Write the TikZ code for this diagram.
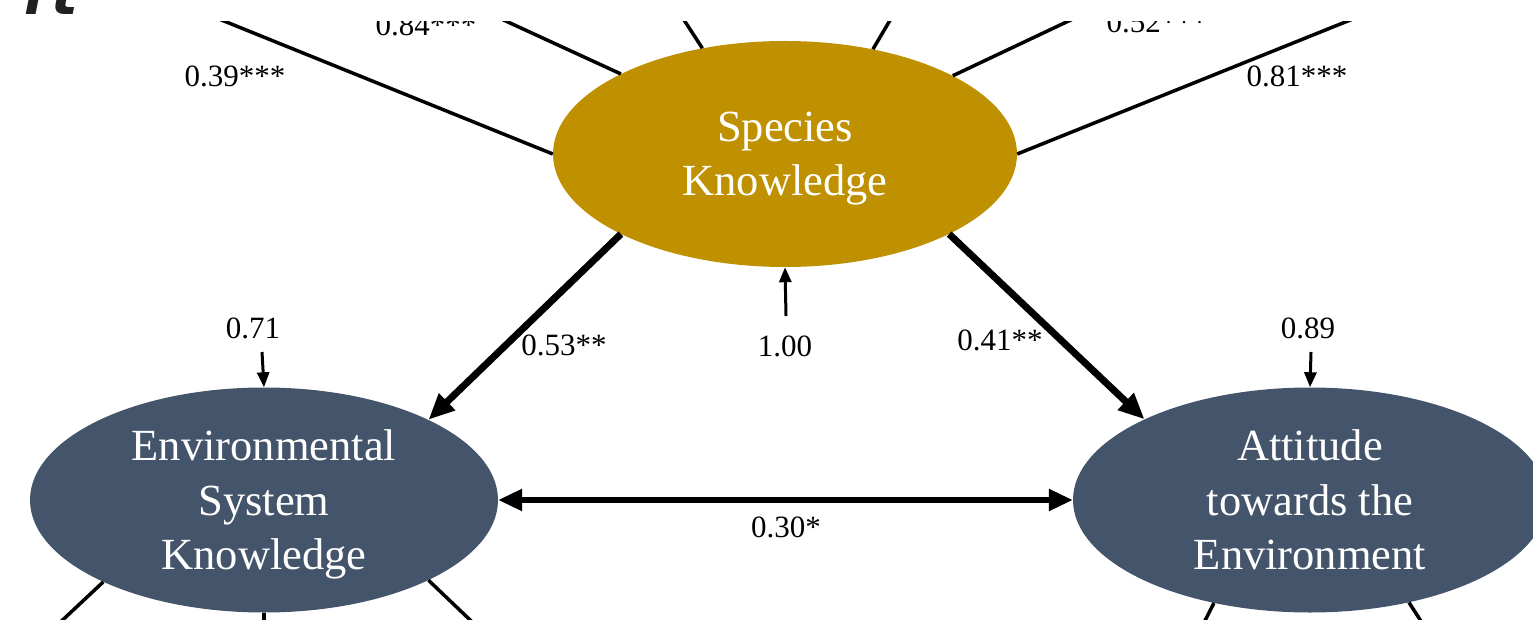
\documentclass[tikz,border=0pt]{standalone}
\usepackage{fontspec}
\setmainfont{Liberation Serif}
\newfontfamily\rtfont{DejaVu Sans}
\usetikzlibrary{shapes.geometric,arrows.meta}
\definecolor{gold}{HTML}{BF9000}
\definecolor{slate}{HTML}{44546A}
\begin{document}
\begin{tikzpicture}[x=1pt,y=-1pt,
  latent/.style={ellipse, fill=#1, text=white, inner sep=0pt, align=center,
    font=\fontsize{44.5}{54.5}\selectfont, text depth=0pt},
  ind/.style={line width=3.5pt},
  pathar/.style={line width=7pt, -{Triangle[length=26pt,width=22pt]}},
  smallar/.style={line width=3pt, -{Triangle[length=15pt,width=12pt]}},
  lbl/.style={font=\fontsize{31}{36}\selectfont, inner sep=0pt}]
\useasboundingbox (0,0) rectangle (1533,620);
% latent variables
\node[latent=gold, minimum width=464pt, minimum height=226pt] (sk) at (785,154) {Species\\Knowledge};
\node[latent=slate, minimum width=468pt, minimum height=225pt] (esk) at (264,500) {Environmental\\System\\Knowledge};
\node[latent=slate, minimum width=474pt, minimum height=225pt] (ate) at (1310,500) {Attitude\\towards the\\Environment};
% indicator ends (outside view)
\coordinate (i1) at (172,0);
\coordinate (i2) at (460,0);
\coordinate (i3) at (671,0);
\coordinate (i4) at (902,0);
\coordinate (i5) at (1113,0);
\coordinate (i6) at (1400,0);
\coordinate (b1) at (20,660);
\coordinate (b2) at (264,660);
\coordinate (b3) at (512,660);
\coordinate (b4) at (1185,660);
\coordinate (b5) at (1446,660);
\draw[ind] (i1) -- (sk.180);
\draw[ind] (i2) -- (sk.154);
\draw[ind] (i3) -- (sk.128);
\draw[ind] (i4) -- (sk.50);
\draw[ind] (i5) -- (sk.25);
\draw[ind] (i6) -- (sk.0);
\draw[ind] (esk.207) -- (b1);
\draw[ind] (esk.south) -- (b2);
\draw[ind] (esk.334) -- (b3);
\draw[ind] (ate.227) -- (b4);
\draw[ind] (ate.314) -- (b5);
% loadings
\node[lbl] (l1) at (235,76) {0.39***};
\node[lbl] (l2) at (426,25) {0.84***};
\node[lbl] (l5) at (1157,22) {0.52***};
\node[lbl] (l6) at (1297,76) {0.81***};
% structural paths
\draw[pathar] (sk.206) -- (esk.26);
\draw[pathar] (sk.334) -- (ate.154);
\node[lbl] (p1) at (564,345) {0.53**};
\node[lbl] (p2) at (1000,340) {0.41**};
% residuals
\coordinate (d1) at (786,316);
\coordinate (d2) at (262,352);
\coordinate (d3) at (1311,352);
\draw[smallar] (d1) -- (sk.south);
\draw[smallar] (d2) -- (esk.north);
\draw[smallar] (d3) -- (ate.north);
\node[lbl] (r1) at (785,346) {1.00};
\node[lbl] (r2) at (253,328) {0.71};
\node[lbl] (r3) at (1308,328) {0.89};
% correlation
\draw[line width=5.5pt, {Triangle[length=24pt,width=21pt]}-{Triangle[length=24pt,width=21pt]}] (esk.east) -- (ate.west);
\node[lbl] (c1) at (786,527) {0.30*};
% cropped top strip
\fill[white] (0,0) rectangle (1533,21);
\node[font=\rtfont\bfseries\itshape\fontsize{56}{60}\selectfont, text=black!87, anchor=base west, inner sep=0pt] (rt) at (24,15) {rt};
\end{tikzpicture}
\end{document}
